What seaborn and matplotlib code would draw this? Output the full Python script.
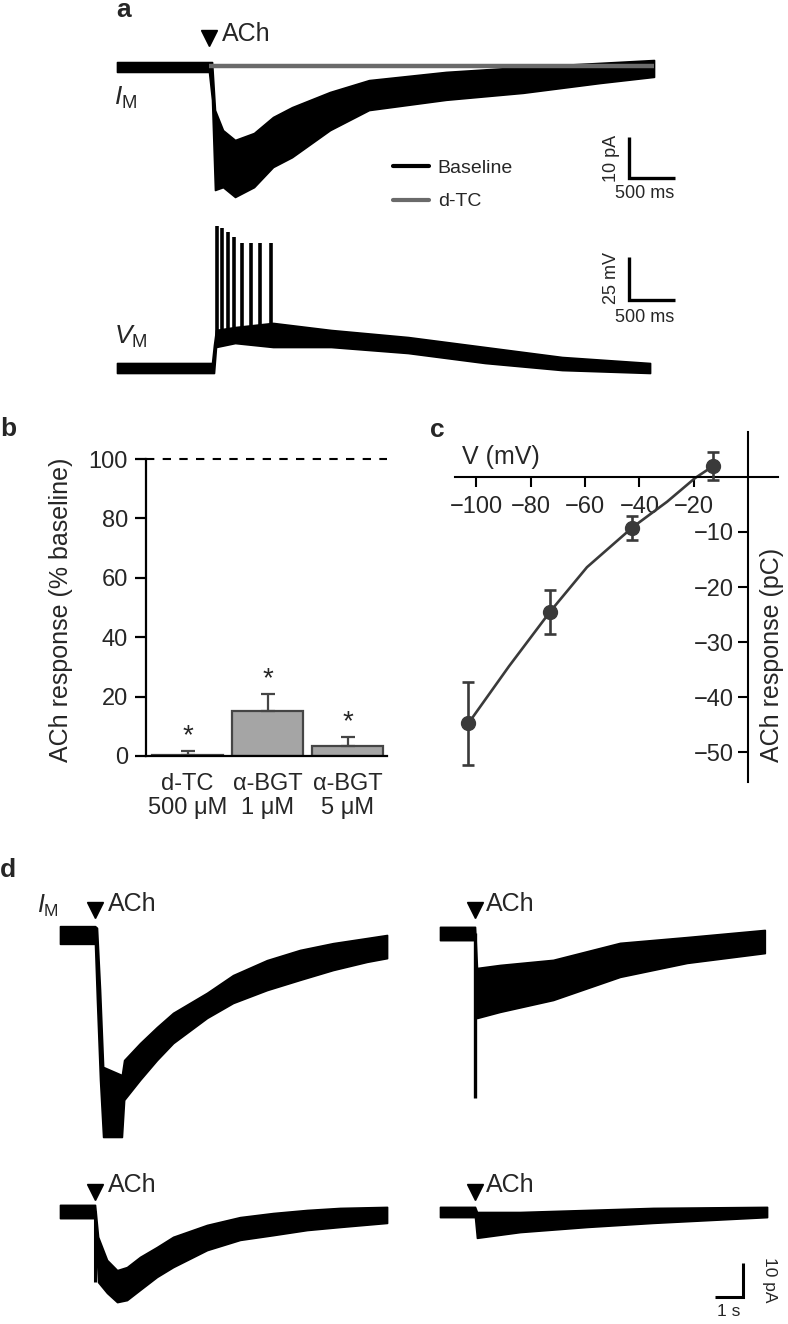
import matplotlib
matplotlib.use("Agg")
import matplotlib.pyplot as plt
import matplotlib.transforms as mtransforms
from matplotlib.lines import Line2D
import seaborn as sns

# ---------------- panel a : ACh response, current (ms, pA) ----------------
ach_a = 1000
im_t = [0, 1000, 1033, 1065, 1152, 1283, 1489, 1696, 1902, 2315, 2739, 3576, 4413, 5250, 5837]
im_hi = [1.2, 1.2, 1.2, -10.5, -15.4, -17.8, -16.1, -12.2, -9.8, -6.1, -3.2, -1.2, 0.0, 1.0, 1.7]
im_lo = [-1.2, -1.2, -8.0, -30.0, -29.3, -31.7, -29.3, -24.4, -22.0, -15.4, -10.5, -8.0, -6.3, -3.9, -2.4]
dtc_t = [1000, 5837]
dtc_i = [0.2, 0.2]

# voltage (ms, mV)
vm_t = [0, 1000, 1033, 1054, 1076, 1283, 1696, 2326, 3163, 4000, 4837, 5794]
vm_hi = [-57.1, -57.1, -57.1, -46.6, -37.9, -36.2, -33.8, -37.9, -42.0, -47.8, -53.6, -57.1]
vm_lo = [-62.9, -62.9, -62.9, -62.9, -47.8, -45.5, -47.8, -47.8, -51.3, -57.1, -61.2, -62.9]
spike_t = [1082, 1141, 1207, 1272, 1359, 1457, 1554, 1674]
spike_peak = [22.6, 21.4, 19.1, 16.2, 12.7, 12.7, 12.7, 12.7]
spike_base = -45.5

# ---------------- panel b : blockers (% baseline) ----------------
drugs = ["d-TC\n500 μM", "α-BGT\n1 μM", "α-BGT\n5 μM"]
resp = [0.5, 15.1, 3.3]
resp_sem = [1.2, 5.7, 3.0]

# ---------------- panel c : I-V (mV, pC) ----------------
volt = [-103.0, -72.9, -42.6, -12.8]
charge = [-44.8, -24.5, -9.3, 2.0]
charge_err = [7.6, 4.0, 2.2, 2.5]
fit_v = [-103.0, -88.0, -72.9, -59.3, -42.4, -29.8, -19.5, -12.8]
fit_q = [-44.8, -34.4, -24.5, -16.4, -9.1, -4.5, -0.2, 2.0]

# ---------------- panel d : four example cells (s, pA) ----------------
ach_d = 1.25
tl_t = [0, 1.25, 1.32, 1.43, 1.54, 1.79, 2.21, 2.29, 2.86, 3.46, 4.04, 5.25, 6.18, 7.39, 8.57, 9.75, 10.96, 11.68]
tl_hi = [2.6, 2.6, 2.1, -16.2, -38.8, -39.7, -41.2, -36.8, -31.8, -27.1, -22.9, -17.0, -11.8, -7.4, -4.4, -2.4, -0.9, 0.0]
tl_lo = [-2.6, -2.6, -19.1, -42.6, -59.4, -59.4, -59.4, -48.5, -42.6, -36.8, -31.8, -24.4, -20.0, -16.2, -13.2, -10.3, -7.9, -6.8]

tr_t = [0, 1.25, 1.32, 2.14, 4.04, 6.43, 8.82, 11.6]
tr_hi = [1.8, 1.8, -10.3, -9.4, -7.9, -2.9, -1.2, 0.9]
tr_lo = [-2.1, -2.1, -25.0, -23.2, -19.7, -12.9, -8.8, -5.9]
tr_peak = -48.5

bl_t = [0, 1.25, 1.36, 1.68, 2.04, 2.39, 2.86, 3.46, 4.04, 5.25, 6.43, 7.61, 8.82, 10.0, 11.68]
bl_hi = [1.8, 1.8, -7.6, -14.4, -17.4, -16.5, -13.5, -10.6, -7.6, -4.1, -1.8, -0.6, 0.3, 0.9, 1.2]
bl_lo = [-2.1, -2.1, -20.9, -24.1, -26.8, -26.2, -23.2, -19.4, -16.5, -11.5, -8.5, -7.1, -5.6, -4.7, -3.5]
bl_peak = -20.9

br_t = [0, 1.25, 1.32, 2.86, 5.25, 7.61, 11.68]
br_hi = [1.5, 1.5, 0.0, 0.0, 0.6, 1.2, 1.5]
br_lo = [-1.5, -1.5, -7.6, -5.9, -4.4, -3.2, -1.5]

# -------------------------------------------------------------------------
sns.set_theme(style="ticks")
plt.rcParams['font.family'] = ['Liberation Sans', 'DejaVu Sans']
plt.rcParams['mathtext.fontset'] = 'custom'
plt.rcParams['mathtext.rm'] = 'Liberation Sans'
plt.rcParams['mathtext.it'] = 'Liberation Sans:italic'

W, H = 788, 1324
fig = plt.figure(figsize=(W / 100, H / 100), dpi=100)
fig.patch.set_facecolor("white")

DARK = "#3a3a3a"
GREY = "#6a6a6a"


def px_axes(l, t, r, b):
    return fig.add_axes([l / W, 1 - b / H, (r - l) / W, (b - t) / H])


def trace_axes(box, xo, yo):
    # box in pixels, xo / yo = (pixel, value, value per pixel)
    ax = px_axes(*box)
    l, t, r, b = box
    ax.set_xlim(xo[1] + (l - xo[0]) * xo[2], xo[1] + (r - xo[0]) * xo[2])
    ax.set_ylim(yo[1] + (yo[0] - b) * yo[2], yo[1] + (yo[0] - t) * yo[2])
    ax.axis("off")
    return ax


def ftext(x, y, s, **kw):
    fig.text(x / W, 1 - y / H, s, **kw)


def band(ax, t, hi, lo, color="black", z=2):
    ax.fill_between(t, lo, hi, color=color, lw=1.2, zorder=z)


def ach_mark(ax, t, y):
    tr = mtransforms.blended_transform_factory(ax.transData, fig.transFigure)
    ax.plot([t], [1 - y / H], marker="v", ms=12, color="black", transform=tr, clip_on=False)


def scalebar(ax, x, y, dx, dy, lw=2.4):
    ax.plot([x, x, x + dx], [y + dy, y, y], color="black", lw=lw,
            solid_capstyle="butt", solid_joinstyle="miter", clip_on=False)


# ---------------- a ----------------
ax_im = trace_axes((100, 20, 700, 212), (117, 0, 500 / 46), (67, 0, 10 / 41))
band(ax_im, im_t, im_hi, im_lo)
ax_im.plot(dtc_t, dtc_i, color=GREY, lw=3.2, zorder=3, solid_capstyle="butt")
ach_mark(ax_im, ach_a, 38)
scalebar(ax_im, 5565, -27, 500, 10)

ax_vm = trace_axes((100, 215, 700, 385), (117, 0, 500 / 46), (368, -60, 25 / 43))
band(ax_vm, vm_t, vm_hi, vm_lo)
ax_vm.vlines(spike_t, spike_base, spike_peak, color="black", lw=2.6)
scalebar(ax_vm, 5565, -20.5, 500, 25)

ftext(116, 10, "a", fontsize=19, fontweight="bold", va="center", ha="left")
ftext(222, 34, "ACh", fontsize=18, va="center", ha="left")
ftext(114, 98, r"$I_{\mathrm{M}}$", fontsize=19, va="center", ha="left")
ftext(114, 337, r"$V_{\mathrm{M}}$", fontsize=19, va="center", ha="left")
ftext(611, 158, "10 pA", fontsize=13, rotation=90, va="center", ha="center")
ftext(645, 193, "500 ms", fontsize=13, va="center", ha="center")
ftext(611, 278, "25 mV", fontsize=13, rotation=90, va="center", ha="center")
ftext(645, 317, "500 ms", fontsize=13, va="center", ha="center")

handles = [Line2D([], [], color="black", lw=3), Line2D([], [], color=GREY, lw=3)]
fig.legend(handles, ["Baseline", "d-TC"], loc="center left",
           bbox_to_anchor=(393 / W, 1 - 185 / H), frameon=False, fontsize=14,
           handlelength=1.85, handletextpad=0.45, labelspacing=0.8,
           borderpad=0, borderaxespad=0)

# ---------------- b ----------------
ax_b = px_axes(146, 459, 387, 756)
sns.barplot(x=drugs, y=resp, ax=ax_b, color="#a5a5a5", edgecolor="#454545",
            linewidth=1.6, width=0.89, errorbar=None, saturation=1)
ax_b.errorbar(range(len(drugs)), resp, yerr=[[0] * len(drugs), resp_sem], fmt="none",
              ecolor="#454545", elinewidth=1.6, capsize=5, capthick=1.6)
for i, (r, e) in enumerate(zip(resp, resp_sem)):
    ax_b.text(i, r + e + 0.6, "*", ha="center", va="bottom", fontsize=20)
ax_b.axhline(100, color="black", lw=1.5, ls=(0, (4, 4)), clip_on=False)
ax_b.set_xlim(-0.52, 2.49)
ax_b.set_ylim(0, 100)
ax_b.set_yticks([0, 20, 40, 60, 80, 100])
sns.despine(ax=ax_b)
for s in ["left", "bottom"]:
    ax_b.spines[s].set_linewidth(1.6)
    ax_b.spines[s].set_color("black")
ax_b.tick_params(axis="y", length=8, width=1.6, labelsize=17, pad=5, color="black")
ax_b.tick_params(axis="x", length=0, labelsize=17, pad=12)
for lab in ax_b.get_xticklabels():
    lab.set_linespacing(1.12)
ax_b.set_facecolor("none")
ftext(61, 610, "ACh response (% baseline)", fontsize=18, rotation=90, va="center", ha="center")
ftext(0, 429, "b", fontsize=19, fontweight="bold", va="center", ha="left")

# ---------------- c ----------------
ax_c = px_axes(455, 432, 778, 782)
sns.lineplot(x=fit_v, y=fit_q, ax=ax_c, color=DARK, lw=1.9)
ax_c.errorbar(volt, charge, yerr=charge_err, fmt="o", color=DARK, ms=10,
              elinewidth=1.9, capsize=4.5, capthick=1.9, zorder=4)
ax_c.set_xlim(-107.9, 11.05)
ax_c.set_ylim(-55.45, 8.18)
ax_c.spines["left"].set_position(("data", 0))
ax_c.spines["bottom"].set_position(("data", 0))
ax_c.spines["top"].set_visible(False)
ax_c.spines["right"].set_visible(False)
for s in ["left", "bottom"]:
    ax_c.spines[s].set_linewidth(1.5)
    ax_c.spines[s].set_color("black")
ax_c.set_xticks([-100, -80, -60, -40, -20])
ax_c.set_yticks([-10, -20, -30, -40, -50])
ax_c.tick_params(axis="x", length=7, width=1.5, labelsize=17, pad=7, color="black")
ax_c.tick_params(axis="y", length=7, width=1.5, labelsize=17, pad=3, color="black")
ax_c.set_facecolor("none")
ftext(462, 457, "V (mV)", fontsize=18, va="center", ha="left")
ftext(772, 655, "ACh response (pC)", fontsize=18, rotation=90, va="center", ha="center")
ftext(430, 430, "c", fontsize=19, fontweight="bold", va="center", ha="left")

# ---------------- d ----------------
xs, ys = 1 / 28, 1 / 3.4
ax_tl = trace_axes((30, 880, 420, 1150), (60, 0, xs), (935, 0, ys))
band(ax_tl, tl_t, tl_hi, tl_lo)
ach_mark(ax_tl, ach_d, 910)

ax_tr = trace_axes((420, 880, 788, 1150), (440, 0, xs), (933, 0, ys))
band(ax_tr, tr_t, tr_hi, tr_lo)
ax_tr.vlines([ach_d], tr_peak, 0, color="black", lw=2.4)
ach_mark(ax_tr, ach_d, 910)

ax_bl = trace_axes((30, 1160, 420, 1324), (60, 0, xs), (1211, 0, ys))
band(ax_bl, bl_t, bl_hi, bl_lo)
ax_bl.vlines([ach_d], bl_peak, 0, color="black", lw=2.2)
ach_mark(ax_bl, ach_d, 1192)

ax_br = trace_axes((420, 1160, 788, 1324), (440, 0, xs), (1212, 0, ys))
band(ax_br, br_t, br_hi, br_lo)
ach_mark(ax_br, ach_d, 1192)
scalebar(ax_br, 10.82, -25, -1, 10, lw=2.2)

ftext(0, 870, "d", fontsize=19, fontweight="bold", va="center", ha="left")
ftext(37, 906, r"$I_{\mathrm{M}}$", fontsize=18, va="center", ha="left")
ftext(108, 904, "ACh", fontsize=18, va="center", ha="left")
ftext(486, 904, "ACh", fontsize=18, va="center", ha="left")
ftext(108, 1185, "ACh", fontsize=18, va="center", ha="left")
ftext(486, 1185, "ACh", fontsize=18, va="center", ha="left")
ftext(770, 1280, "10 pA", fontsize=12.5, rotation=-90, va="center", ha="center")
ftext(729, 1312, "1 s", fontsize=12.5, va="center", ha="center")

fig.savefig("out.png", dpi=100, facecolor="white")
